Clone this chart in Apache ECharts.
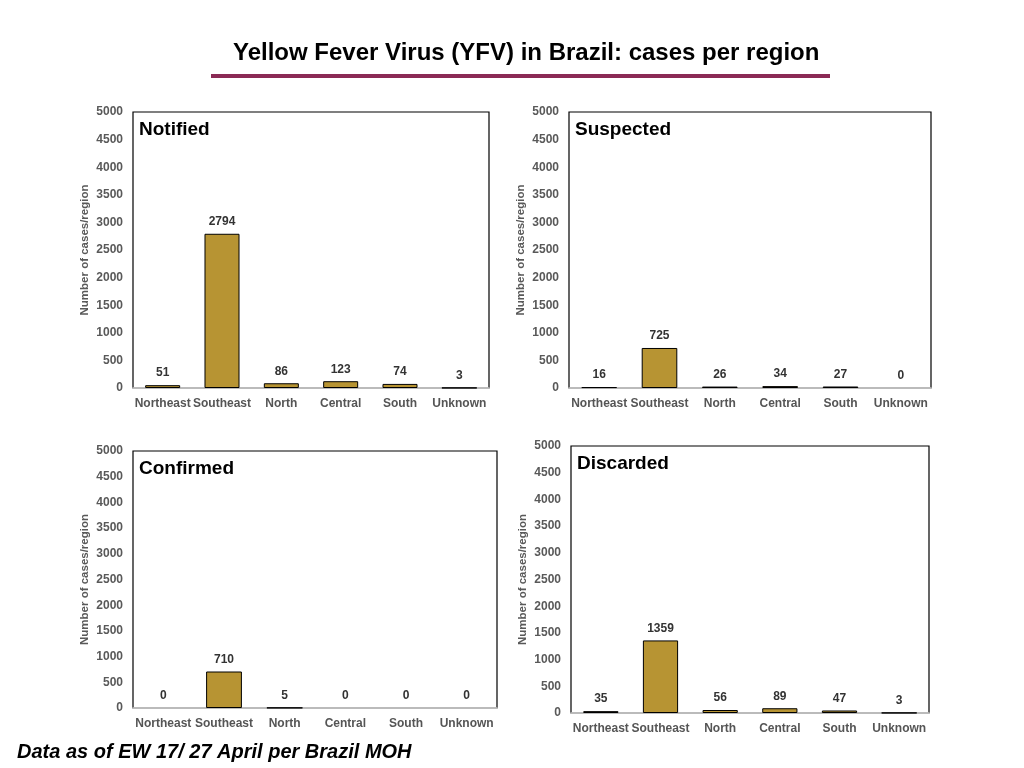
<!DOCTYPE html>
<html>
<head>
<meta charset="utf-8">
<script src="https://cdn.jsdelivr.net/npm/echarts@6/dist/echarts.min.js"></script>
<style>
  html, body { margin: 0; padding: 0; background: #fff; }
  #container { width: 1024px; height: 768px; }
</style>
</head>
<body>
<div id="container"></div>
<script>
var regions = ['Northeast', 'Southeast', 'North', 'Central', 'South', 'Unknown'];
var panelNames = ['Notified', 'Suspected', 'Confirmed', 'Discarded'];
var notified = [51, 2794, 86, 123, 74, 3];
var suspected = [16, 725, 26, 34, 27, 0];
var confirmed = [0, 710, 5, 0, 0, 0];
var discarded = [35, 1359, 56, 89, 47, 3];
var yMax = 5000;
var yStep = 500;

var panelData = [notified, suspected, confirmed, discarded];
// grid boxes: left, top, width, height
var boxes = [
	[133, 112, 356, 276],
	[569, 112, 362, 276],
	[133, 451, 364, 257],
	[571, 446, 358, 267]
];

var dom = document.getElementById('container');
var myChart = echarts.init(dom);

var grids = [], xAxes = [], yAxes = [], series = [], titles = [];

titles.push({
	text: 'Yellow Fever Virus (YFV) in Brazil: cases per region',
	left: 228,
	top: 36,
	textStyle: { fontFamily: 'Liberation Sans', fontSize: 24, fontWeight: 'bold', color: '#000' }
});
titles.push({
	text: 'Data as of EW 17/ 27 April per Brazil MOH',
	left: 12,
	top: 737,
	textStyle: { fontFamily: 'Liberation Sans', fontSize: 20, fontWeight: 'bold', fontStyle: 'italic', color: '#000' }
});

for (var i = 0; i < 4; i++) {
	var b = boxes[i];
	grids.push({
		left: b[0], top: b[1], width: b[2], height: b[3],
		show: true, borderColor: '#000', borderWidth: 1.2, backgroundColor: '#fff'
	});
	titles.push({
		text: panelNames[i],
		left: b[0] + 1,
		top: b[1] + 3,
		textStyle: { fontFamily: 'Liberation Sans', fontSize: 19, fontWeight: 'bold', color: '#000' }
	});
	xAxes.push({
		type: 'category',
		gridIndex: i,
		data: regions,
		axisLine: { lineStyle: { color: '#d0d0d0', width: 1.5 } },
		axisTick: { show: false },
		axisLabel: {
			interval: 0, margin: 10,
			fontFamily: 'Liberation Sans', fontSize: 12, fontWeight: 'bold', color: '#555'
		}
	});
	yAxes.push({
		type: 'value',
		gridIndex: i,
		min: 0, max: yMax, interval: yStep,
		name: 'Number of cases/region',
		nameLocation: 'middle',
		nameGap: 42,
		nameRotate: 90,
		nameTextStyle: { fontFamily: 'Liberation Sans', fontSize: 11.5, fontWeight: 'bold', color: '#595959' },
		splitLine: { show: false },
		axisLine: { show: false },
		axisTick: { show: false },
		axisLabel: {
			margin: 10,
			formatter: function (v) { return String(v); },
			fontFamily: 'Liberation Sans', fontSize: 12, fontWeight: 'bold', color: '#595959'
		}
	});
	series.push({
		type: 'bar',
		xAxisIndex: i,
		yAxisIndex: i,
		data: panelData[i].map(function (v) {
			return v === 0 ? { value: v, itemStyle: { borderWidth: 0 } } : v;
		}),
		barWidth: '59%',
		itemStyle: { color: '#b79433', borderColor: '#000', borderWidth: 1 },
		label: {
			show: true, position: 'top', distance: 6,
			fontFamily: 'Liberation Sans', fontSize: 12, fontWeight: 'bold', color: '#333'
		}
	});
}

var option = {
	backgroundColor: '#fff',
	animation: false,
	title: titles,
	grid: grids,
	xAxis: xAxes,
	yAxis: yAxes,
	series: series,
	graphic: [{
		type: 'rect',
		shape: { x: 211, y: 74, width: 619, height: 4 },
		style: { fill: '#8b2a55' }
	}]
};

myChart.setOption(option, true);
</script>
</body>
</html>
